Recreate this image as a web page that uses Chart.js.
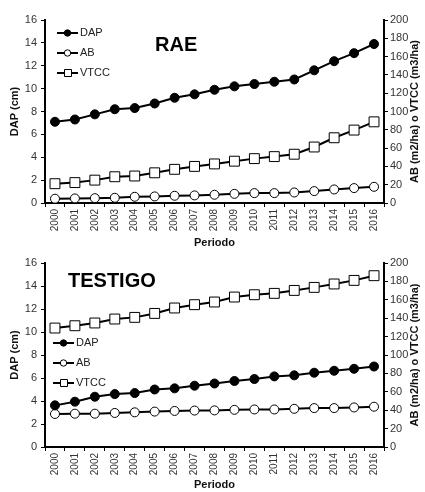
<!DOCTYPE html>
<html lang="es">
<head>
<meta charset="UTF-8" />
<title>RAE / TESTIGO</title>
<script src="https://cdn.jsdelivr.net/npm/chart.js"></script>
<style>
  body { margin: 0; background: #fff; font-family: 'Liberation Sans', Arial, sans-serif; }
  .box { position: relative; width: 425px; }
  #top { height: 250px; }
  #bottom { height: 242px; }
</style>
</head>
<body>
  <div class="box" id="top"><canvas id="c1"></canvas></div>
  <div class="box" id="bottom"><canvas id="c2"></canvas></div>

<script>
const years = ['2000','2001','2002','2003','2004','2005','2006','2007','2008',
               '2009','2010','2011','2012','2013','2014','2015','2016'];

// RAE
const raeDap  = [7.1, 7.3, 7.75, 8.2, 8.3, 8.7, 9.2, 9.5, 9.9, 10.2, 10.4, 10.6, 10.8, 11.6, 12.4, 13.1, 13.9];
const raeAb   = [4.7, 5.0, 5.3, 5.7, 6.8, 7.2, 7.9, 8.3, 9.0, 10.0, 10.8, 10.8, 11.5, 13.0, 14.8, 16.3, 17.7];
const raeVtcc = [21.1, 22.3, 25.0, 28.7, 29.5, 33.0, 36.8, 40.0, 42.7, 45.7, 48.5, 50.7, 53.3, 61.2, 71.3, 79.7, 88.7];

// TESTIGO
const tesDap  = [3.62, 3.94, 4.37, 4.6, 4.69, 5.0, 5.1, 5.33, 5.52, 5.74, 5.91, 6.14, 6.23, 6.46, 6.63, 6.8, 7.0];
const tesAb   = [35.9, 36.2, 36.2, 37.0, 37.7, 38.5, 39.2, 39.6, 39.8, 40.4, 40.8, 40.8, 41.5, 42.3, 42.3, 43.0, 43.8];
const tesVtcc = [129.3, 131.8, 134.8, 139.1, 140.9, 145.2, 151.1, 154.7, 157.6, 163.0, 165.5, 167.0, 170.2, 173.5, 177.2, 181.1, 186.2];

const seriesNames = ['DAP', 'AB', 'VTCC'];
const leftTicks = { min: 0, max: 16, step: 2 };
const rightTicks = { min: 0, max: 200, step: 20 };
const rightTitle = 'AB (m2/ha) o VTCC (m3/ha)';

// draws the small legend, the panel title and the right axis title (reads bottom-up)
const insidePlugin = {
  id: 'inside',
  afterDraw(chart, args, opts) {
    const ctx = chart.ctx;
    const a = chart.chartArea;
    ctx.save();
    ctx.fillStyle = '#000';
    ctx.font = 'bold 20px "Liberation Sans", Arial, sans-serif';
    ctx.textBaseline = 'middle';
    ctx.textAlign = 'left';
    ctx.fillText(opts.title, opts.titleX, opts.titleY);

    ctx.font = '11px "Liberation Sans", Arial, sans-serif';
    chart.data.datasets.forEach((ds, i) => {
      const y = opts.legY + i * 20;
      const x0 = opts.legX;
      ctx.strokeStyle = '#000';
      ctx.lineWidth = 2;
      ctx.beginPath();
      ctx.moveTo(x0, y);
      ctx.lineTo(x0 + 21, y);
      ctx.stroke();
      ctx.lineWidth = 1;
      ctx.fillStyle = ds.pointBackgroundColor;
      ctx.beginPath();
      if (ds.pointStyle === 'rect') ctx.rect(x0 + 7.5, y - 3.5, 7, 7);
      else ctx.arc(x0 + 10.5, y, 3.2, 0, Math.PI * 2);
      ctx.fill();
      ctx.stroke();
      ctx.fillStyle = '#222';
      ctx.fillText(ds.label, x0 + 23, y);
    });

    // right axis title
    ctx.translate(415, (a.top + a.bottom) / 2);
    ctx.rotate(-Math.PI / 2);
    ctx.textAlign = 'center';
    ctx.fillStyle = '#111';
    ctx.font = 'bold 11px "Liberation Sans", Arial, sans-serif';
    ctx.fillText(rightTitle, 0, 0);
    ctx.restore();
  }
};

function makeChart(id, dap, ab, vtcc, inside) {
  const line = { borderColor: '#000', borderWidth: 2, pointBorderColor: '#000',
                 pointBorderWidth: 1, tension: 0 };
  return new Chart(document.getElementById(id), {
    type: 'line',
    data: {
      labels: years,
      datasets: [
        { ...line, label: seriesNames[0], data: dap, yAxisID: 'y',
          pointStyle: 'circle', pointRadius: 4.5, pointBackgroundColor: '#000' },
        { ...line, label: seriesNames[1], data: ab, yAxisID: 'y1',
          pointStyle: 'circle', pointRadius: 4.5, pointBackgroundColor: '#fff' },
        { ...line, label: seriesNames[2], data: vtcc, yAxisID: 'y1',
          pointStyle: 'rect', pointRadius: 7, pointBackgroundColor: '#fff' }
      ]
    },
    options: {
      responsive: true,
      maintainAspectRatio: false,
      animation: false,
      layout: { padding: { top: inside.padTop, right: 0, left: 0, bottom: 0 } },
      plugins: {
        legend: { display: false },
        tooltip: { enabled: false },
        inside: inside
      },
      scales: {
        x: {
          offset: true,
          grid: { drawOnChartArea: false, color: '#000', tickLength: 4, offset: true },
          border: { color: '#000', width: 2 },
          ticks: { color: '#333', font: { size: 10 }, minRotation: 90, maxRotation: 90, padding: 2 },
          title: { display: true, text: 'Periodo', color: '#111',
                   font: { size: 11, weight: 'bold' }, padding: { top: 0, bottom: 0 } },
          afterFit: s => { s.height = inside.xHeight; }
        },
        y: {
          position: 'left',
          min: leftTicks.min, max: leftTicks.max,
          grid: { drawOnChartArea: false, color: '#000', tickLength: 4 },
          border: { color: '#000', width: 2 },
          ticks: { stepSize: leftTicks.step, color: '#333', font: { size: 11 }, padding: 4 },
          title: { display: true, text: 'DAP (cm)', color: '#111',
                   font: { size: 11, weight: 'bold' }, padding: { top: 8, bottom: 0 } },
          afterFit: s => { s.width = 45; }
        },
        y1: {
          position: 'right',
          min: rightTicks.min, max: rightTicks.max,
          grid: { drawOnChartArea: false, color: '#000', tickLength: 4 },
          border: { color: '#000', width: 2 },
          ticks: { stepSize: rightTicks.step, color: '#333', font: { size: 11 }, padding: 2 },
          afterFit: s => { s.width = 41; }
        }
      }
    },
    plugins: [insidePlugin]
  });
}

makeChart('c1', raeDap, raeAb, raeVtcc,
  { title: 'RAE', titleX: 155, titleY: 45, legX: 57, legY: 33, padTop: 20, xHeight: 47 });
makeChart('c2', tesDap, tesAb, tesVtcc,
  { title: 'TESTIGO', titleX: 68, titleY: 31, legX: 53, legY: 93, padTop: 13, xHeight: 45 });
</script>
</body>
</html>
